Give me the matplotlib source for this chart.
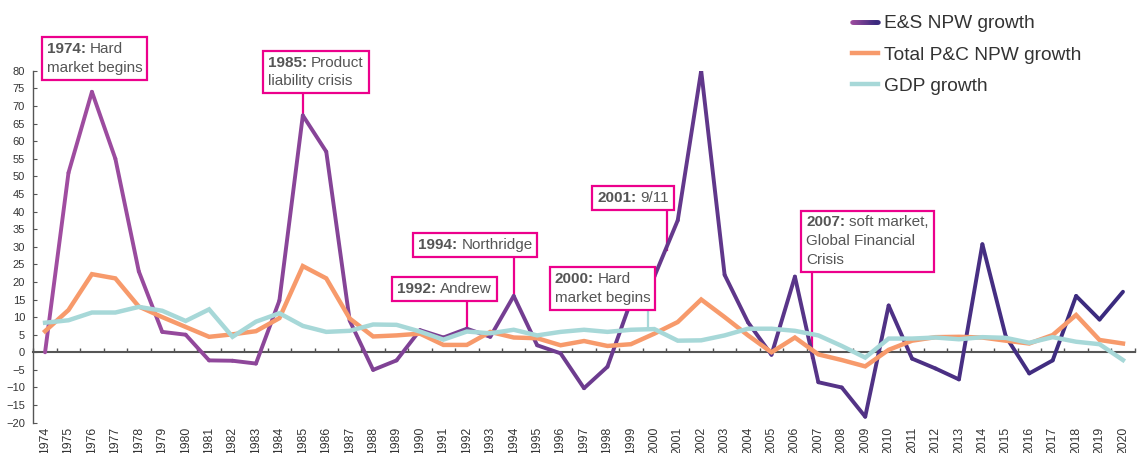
import numpy as np
import matplotlib
matplotlib.use("Agg")
import matplotlib.pyplot as plt
from matplotlib.collections import LineCollection
from matplotlib.colors import LinearSegmentedColormap
from matplotlib.legend_handler import HandlerBase
from matplotlib.offsetbox import TextArea, HPacker, VPacker, AnnotationBbox

plt.rcParams['font.family'] = ['Liberation Sans', 'DejaVu Sans']

years = list(range(1974, 2021))
es_growth = [0, 51, 74, 55, 23, 5.8, 5, -2.3, -2.4, -3.2,
             14.7, 67.3, 57, 9, -5, -2.3, 6.3, 4.2, 6.7, 4.4,
             16, 2, -0.3, -10.2, -4.1, 14.5, 21.5, 37.5, 80, 22,
             8.5, -0.7, 21.5, -8.5, -10, -18.3, 13.3, -1.8, -4.6, -7.7,
             30.7, 4.5, -6, -2.3, 16, 9.3, 17.2]
total_pc = [6, 12, 22.2, 21, 13, 10, 7.2, 4.4, 5.1, 6,
            9.7, 24.5, 21, 9.6, 4.5, 4.8, 5.3, 2.1, 2.1, 5.8,
            4.2, 4, 2, 3.2, 1.8, 2.3, 5.3, 8.6, 15, 10,
            4.8, 0, 4.2, -0.6, -2.2, -4, 0.7, 3.3, 4.3, 4.4,
            4.2, 3.3, 2.5, 4.9, 10.6, 3.5, 2.5]
gdp = [8.4, 9.1, 11.3, 11.3, 12.9, 11.8, 8.9, 12.2, 4.4, 8.7,
       11.1, 7.5, 5.8, 6.1, 7.9, 7.8, 5.9, 3.6, 5.9, 5.4,
       6.4, 4.8, 5.8, 6.4, 5.8, 6.4, 6.6, 3.3, 3.4, 4.8,
       6.7, 6.7, 6.1, 4.8, 1.8, -1.5, 3.9, 3.9, 4.2, 3.7,
       4.3, 4.1, 2.7, 4.3, 3.0, 2.3, -2.2]
series_names = ["E&S NPW growth", "Total P&C NPW growth", "GDP growth"]

# callouts: (bold part, rest of first line, more lines, box left, box bottom, leader x, leader end y, leader colour)
notes = [
    ("1974:", "Hard", ["market begins"], 1973.87, 77.4, None, None, None),
    ("1985:", "Product", ["liability crisis"], 1983.30, 73.6, 1985, 67.3, "pink"),
    ("1992:", "Andrew", [], 1988.81, 14.6, 1992, 6.7, "pink"),
    ("1994:", "Northridge", [], 1989.71, 27.1, 1994, 16, "pink"),
    ("2000:", "Hard", ["market begins"], 1995.55, 12.0, 1999.74, 6.6, "teal"),
    ("2001:", "9/11", [], 1997.35, 40.4, 2000.55, 29, "pink"),
    ("2007:", "soft market,", ["Global Financial", "Crisis"], 2006.27, 22.8, 2006.74, -1.6, "pink"),
]

purple_map = LinearSegmentedColormap.from_list("es", ["#A04DA0", "#3A2A7E"])
orange = "#F79A6B"
teal = "#A7D8D8"
pink = "#EC008C"
text_grey = "#555555"


class GradientHandler(HandlerBase):
    def create_artists(self, legend, orig_handle, xdescent, ydescent,
                       width, height, fontsize, trans):
        xs = np.linspace(-xdescent, width - xdescent, 30)
        y = height / 2 - ydescent
        pts = np.column_stack([xs, np.full_like(xs, y)])
        segs = np.stack([pts[:-1], pts[1:]], axis=1)
        lc = LineCollection(segs, colors=purple_map(np.linspace(0, 1, len(segs))),
                            linewidths=3.3, capstyle='round', transform=trans)
        return [lc]


fig = plt.figure(figsize=(11.42, 4.53), dpi=100)
ax = fig.add_axes([0.0292, 0.0669, 0.9644, 0.777])

x = np.array(years, dtype=float)
ymin, ymax = -20, 80

# E&S line with a left-to-right colour gradient
pts = np.column_stack([x, es_growth])
segs = np.stack([pts[:-1], pts[1:]], axis=1)
t = np.linspace(0, 1, len(segs))
es_lc = LineCollection(segs, colors=purple_map(t), linewidths=2.8,
                       capstyle='round', joinstyle='miter', zorder=3)
ax.add_collection(es_lc)
l2, = ax.plot(x, total_pc, color=orange, lw=3.2, solid_joinstyle='miter', zorder=4)
l3, = ax.plot(x, gdp, color=teal, lw=3.2, solid_joinstyle='miter', zorder=5)

ax.set_xlim(years[0] - 0.5, years[-1] + 0.5)
ax.set_ylim(ymin, ymax)

for sp in ['top', 'right', 'bottom']:
    ax.spines[sp].set_visible(False)
ax.spines['left'].set_color('#555555')
ax.spines['left'].set_linewidth(1.0)

ax.set_yticks(range(-20, 81, 5))
ax.tick_params(axis='y', direction='in', length=3, color='#555555',
               labelsize=8, labelcolor='#333333', pad=6)
ax.set_xticks(years)
ax.set_xticklabels([str(y) for y in years], rotation=90, va='top')
ax.tick_params(axis='x', length=0, labelsize=8.8, labelcolor='#333333', pad=3)

# zero line with category boundary ticks
zero_frac = (0 - ymin) / (ymax - ymin)
sec = ax.secondary_xaxis(zero_frac)
sec.set_xticks(np.arange(years[0] - 0.5, years[-1] + 1, 1.0))
sec.tick_params(direction='in', length=3, color='#555555', labelbottom=False, width=1)
sec.spines['bottom'].set_color('#555555')
sec.spines['bottom'].set_linewidth(1.5)

# callouts
for bold, rest, more, bx, by, lx, ly, lcol in notes:
    tp = dict(fontsize=11, color=text_grey)
    first = HPacker(children=[TextArea(bold, textprops=dict(tp, weight='bold')),
                              TextArea(rest, textprops=tp)], sep=3, pad=0, align='baseline')
    rows = [first] + [TextArea(m, textprops=tp) for m in more]
    box = VPacker(children=rows, sep=3.5, pad=3.5, align='left')
    ab = AnnotationBbox(box, (bx, by), xycoords='data', box_alignment=(0, 0),
                        frameon=True, pad=0, annotation_clip=False, zorder=6,
                        bboxprops=dict(edgecolor=pink, facecolor='white', lw=1.6))
    ax.add_artist(ab)
    if lx is not None:
        c = pink if lcol == "pink" else teal
        ax.plot([lx, lx], [ly, by], color=c, lw=1.6, zorder=2.5 if lcol == "pink" else 5)

fig.legend([es_lc, l2, l3], series_names, handler_map={LineCollection: GradientHandler()},
           loc='upper left', bbox_to_anchor=(0.7458, 0.967), frameon=False,
           fontsize=13.8, labelcolor='#333333', handlelength=1.35, handletextpad=0.35,
           labelspacing=0.72, borderpad=0, borderaxespad=0)

fig.savefig("out.png", dpi=100)
